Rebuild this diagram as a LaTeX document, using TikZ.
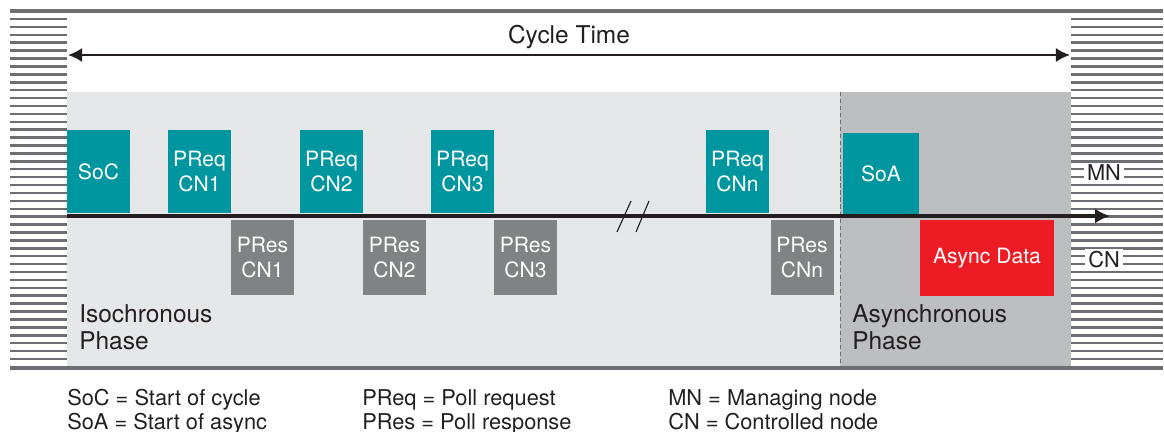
\documentclass[tikz,border=0pt]{standalone}
\usepackage{fontspec}
\setmainfont{TeX Gyre Heros}
\usetikzlibrary{arrows.meta, positioning}
\definecolor{tealbox}{HTML}{00969F}
\definecolor{greybox}{HTML}{808285}
\definecolor{asyncred}{HTML}{ED1C24}
\definecolor{isophase}{HTML}{E6E7E8}
\definecolor{asyphase}{HTML}{BCBEC0}
\definecolor{stripegrey}{HTML}{6D6E71}
\definecolor{inkblack}{HTML}{231F20}

\tikzset{
  mnframe/.style={rectangle, fill=tealbox, text=white, minimum width=1.575cm, minimum height=2.075cm, inner sep=0pt, align=center, font=\fontsize{15}{17.7}\selectfont},
  cnframe/.style={rectangle, fill=greybox, text=white, minimum width=1.575cm, minimum height=1.875cm, inner sep=0pt, align=center, font=\fontsize{15}{17.7}\selectfont},
  phaselabel/.style={anchor=north west, inner sep=0pt, align=left, text=inkblack, font=\fontsize{17.4}{19.3}\selectfont},
  legendtext/.style={anchor=base west, inner sep=0pt, text=inkblack, font=\fontsize{15.5}{18}\selectfont},
  linelabel/.style={fill=white, inner xsep=2.5pt, inner ysep=1.5pt, text=inkblack, font=\fontsize{15.5}{18}\selectfont},
}

\begin{document}
\begin{tikzpicture}[x=0.025cm, y=-0.025cm]
\useasboundingbox (0,0) rectangle (1164,432);

% phases
\fill[isophase] (67,92) rectangle (840,366);
\fill[asyphase] (840,92) rectangle (1071,366);
\draw[stripegrey, densely dashed, line width=0.6pt] (840,92) -- (840,366);

% hatching left and right
\foreach \i in {0,...,43} {
  \draw[stripegrey, line width=1.8pt] (10,19+\i*7.907) -- (67,19+\i*7.907);
  \draw[stripegrey, line width=1.8pt] (1071,19+\i*7.907) -- (1163,19+\i*7.907);
}
\draw[stripegrey, line width=2.2pt] (10,11) -- (1163,11);
\draw[stripegrey, line width=2.2pt] (10,368) -- (1163,368);

% cycle time
\coordinate (cycstart) at (68,55);
\coordinate (cycend) at (1070,55);
\draw[{Latex[length=10pt,width=10pt]}-{Latex[length=10pt,width=10pt]}, line width=1.4pt, inkblack] (cycstart) -- (cycend);
\node[text=inkblack, font=\fontsize{17.4}{20}\selectfont] (cyclabel) at (569,37) {Cycle Time};

% time axis
\coordinate (axstart) at (67,216);
\coordinate (axend) at (1110,216);
\draw[-{Latex[length=10.5pt,width=10.5pt]}, line width=2.2pt, inkblack] (axstart) -- (axend);
\draw[inkblack, line width=0.8pt] (617,232) -- (631,201);
\draw[inkblack, line width=0.8pt] (636,232) -- (649,201);

% frames on the line
\node[mnframe] (soc) at (98.5,171.5) {SoC};
\node[mnframe] (preq1) at (199.5,171.5) {PReq\\CN1};
\node[mnframe] (preq2) at (331.5,171.5) {PReq\\CN2};
\node[mnframe] (preq3) at (462.5,171.5) {PReq\\CN3};
\node[mnframe] (preqn) at (737.5,171.5) {PReq\\CNn};
\node[mnframe, minimum width=1.9cm, minimum height=2cm] (soa) at (881,173.5) {SoA};

\node[cnframe] (pres1) at (262.5,257.5) {PRes\\CN1};
\node[cnframe] (pres2) at (394.5,257.5) {PRes\\CN2};
\node[cnframe] (pres3) at (525.5,257.5) {PRes\\CN3};
\node[cnframe] (presn) at (802,257.5) {PRes\\CNn};
\node[cnframe, fill=asyncred, minimum width=3.35cm] (async) at (987,258) {Async Data};

\node[linelabel] (mn) at (1104,173) {MN};
\node[linelabel] (cn) at (1104,259.5) {CN};

\node[phaselabel] (isolabel) at (79,304) {Isochronous\\Phase};
\node[phaselabel] (asylabel) at (852,304) {Asynchronous\\Phase};

% legend
\node[legendtext] (socdef) at (67,405) {SoC = Start of cycle};
\node[legendtext] (soadef) at (67,429) {SoA = Start of async};
\node[legendtext] (preqdef) at (362,405) {PReq = Poll request};
\node[legendtext] (presdef) at (362,429) {PRes = Poll response};
\node[legendtext] (mndef) at (668,405) {MN = Managing node};
\node[legendtext] (cndef) at (668,429) {CN = Controlled node};
\end{tikzpicture}
\end{document}
